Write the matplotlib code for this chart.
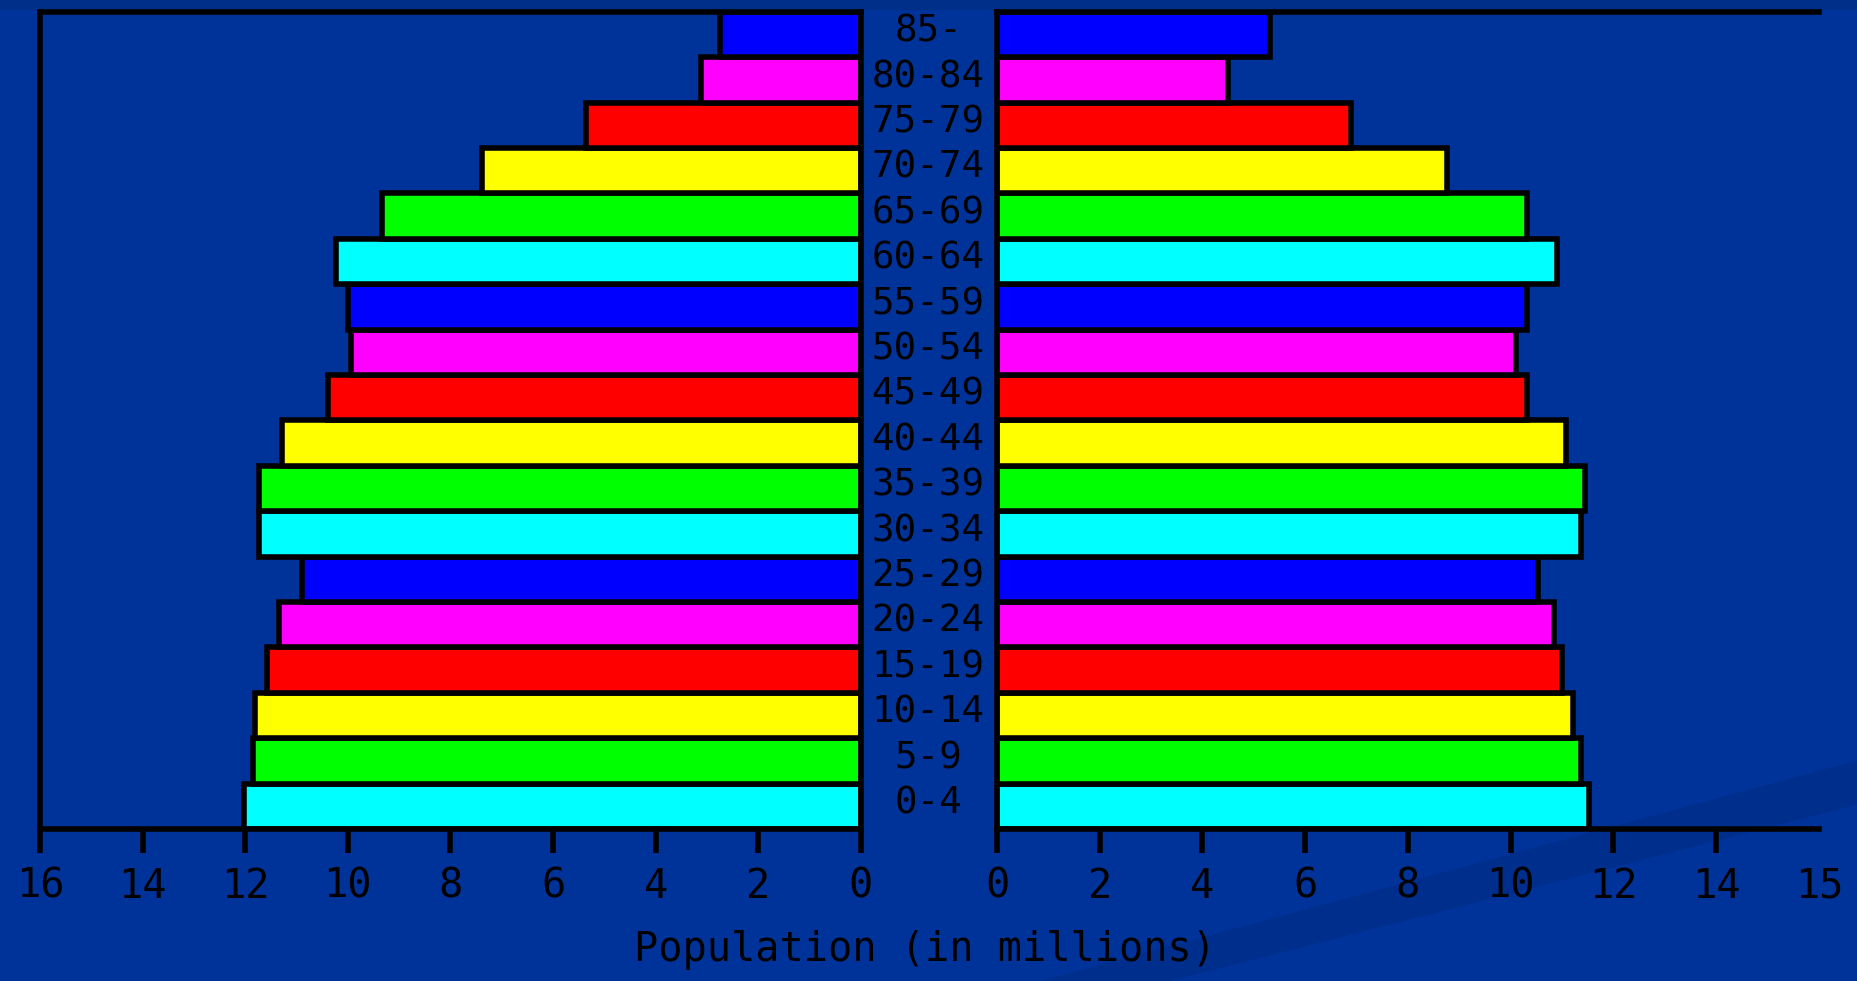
import numpy as np
import matplotlib
matplotlib.use('Agg')
from matplotlib import pyplot as plt
from matplotlib.patches import Polygon

plt.rcParams['font.family'] = ['DejaVu Sans Mono', 'DejaVu Sans']

# age groups, bottom to top
ages = ['0-4', '5-9', '10-14', '15-19', '20-24', '25-29', '30-34', '35-39', '40-44',
        '45-49', '50-54', '55-59', '60-64', '65-69', '70-74', '75-79', '80-84', '85-']
male = [12.03, 11.85, 11.81, 11.58, 11.34, 10.90, 11.73, 11.73, 11.29,
        10.39, 9.94, 10.00, 10.23, 9.34, 7.39, 5.36, 3.12, 2.75]
female = [11.52, 11.36, 11.21, 10.99, 10.84, 10.54, 11.36, 11.44, 11.07,
          10.31, 10.10, 10.31, 10.91, 10.31, 8.75, 6.89, 4.49, 5.31]
bar_colors = ['#00ffff', '#00ff00', '#ffff00', '#ff0000', '#ff00ff', '#0000ff'] * 3
left_ticks = [0, 2, 4, 6, 8, 10, 12, 14, 16]
right_ticks = [0, 2, 4, 6, 8, 10, 12, 14]
# the end of the right axis is labelled 15 in the original, with no tick mark
right_end = 16
right_end_label = '15'

bg = '#003399'
fsize = 27
tsize = 29
lw = 4
tlen = 17
tpad = 10

fig = plt.figure(figsize=(18.58, 9.81), dpi=100, facecolor=bg)

# faint swoosh band and darker top strip in the backdrop
fig.patches.append(Polygon([(0.56, 0.0), (1.0, 0.225), (1.0, 0.18), (0.63, 0.0)],
                           closed=True, transform=fig.transFigure,
                           facecolor='#002e8c', edgecolor='none', zorder=-5))
fig.patches.append(Polygon([(0.0, 1.0), (1.0, 1.0), (1.0, 0.99), (0.0, 0.99)],
                           closed=True, transform=fig.transFigure,
                           facecolor='#002f8a', edgecolor='none', zorder=-5))

y = np.arange(len(ages))

axl = fig.add_axes([0.0215, 0.1549, 0.4419, 0.833])
axr = fig.add_axes([0.5366, 0.1549, 0.4424, 0.833])

for ax, vals in ((axl, male), (axr, female)):
    ax.set_facecolor('none')
    ax.barh(y, vals, height=1.0, color=bar_colors, edgecolor='black', linewidth=lw, zorder=2)
    ax.set_ylim(-0.5, len(ages) - 0.5)
    ax.set_yticks([])
    ax.tick_params(axis='x', which='major', length=tlen, width=lw, color='black', pad=tpad,
                   labelsize=tsize, labelcolor='black')
    for s in ax.spines.values():
        s.set_linewidth(lw)
        s.set_color('black')
        s.set_zorder(3)

axl.set_xlim(16, 0)
axl.set_xticks(left_ticks)
axl.set_xticklabels([str(t) for t in left_ticks])

axr.set_xlim(0, 16)
axr.set_xticks(right_ticks)
axr.set_xticklabels([str(t) for t in right_ticks])
axr.set_xticks([right_end], minor=True)
axr.set_xticklabels([right_end_label], minor=True)
axr.tick_params(axis='x', which='minor', length=0, pad=tpad + tlen * 1.0,
                labelsize=tsize, labelcolor='black')
axr.spines['right'].set_visible(False)

# age labels in the gap between the panels
for i, a in enumerate(ages):
    yf = axl.transData.transform((0, i))[1] / fig.bbox.height
    fig.text(0.4995, yf + 0.003, a, ha='center', va='center', fontsize=fsize, color='black')

fig.text(0.498, 0.032, 'Population (in millions)', ha='center', va='center',
         fontsize=tsize, color='black')

fig.savefig('out.png', dpi=100, facecolor=bg)
plt.close()
